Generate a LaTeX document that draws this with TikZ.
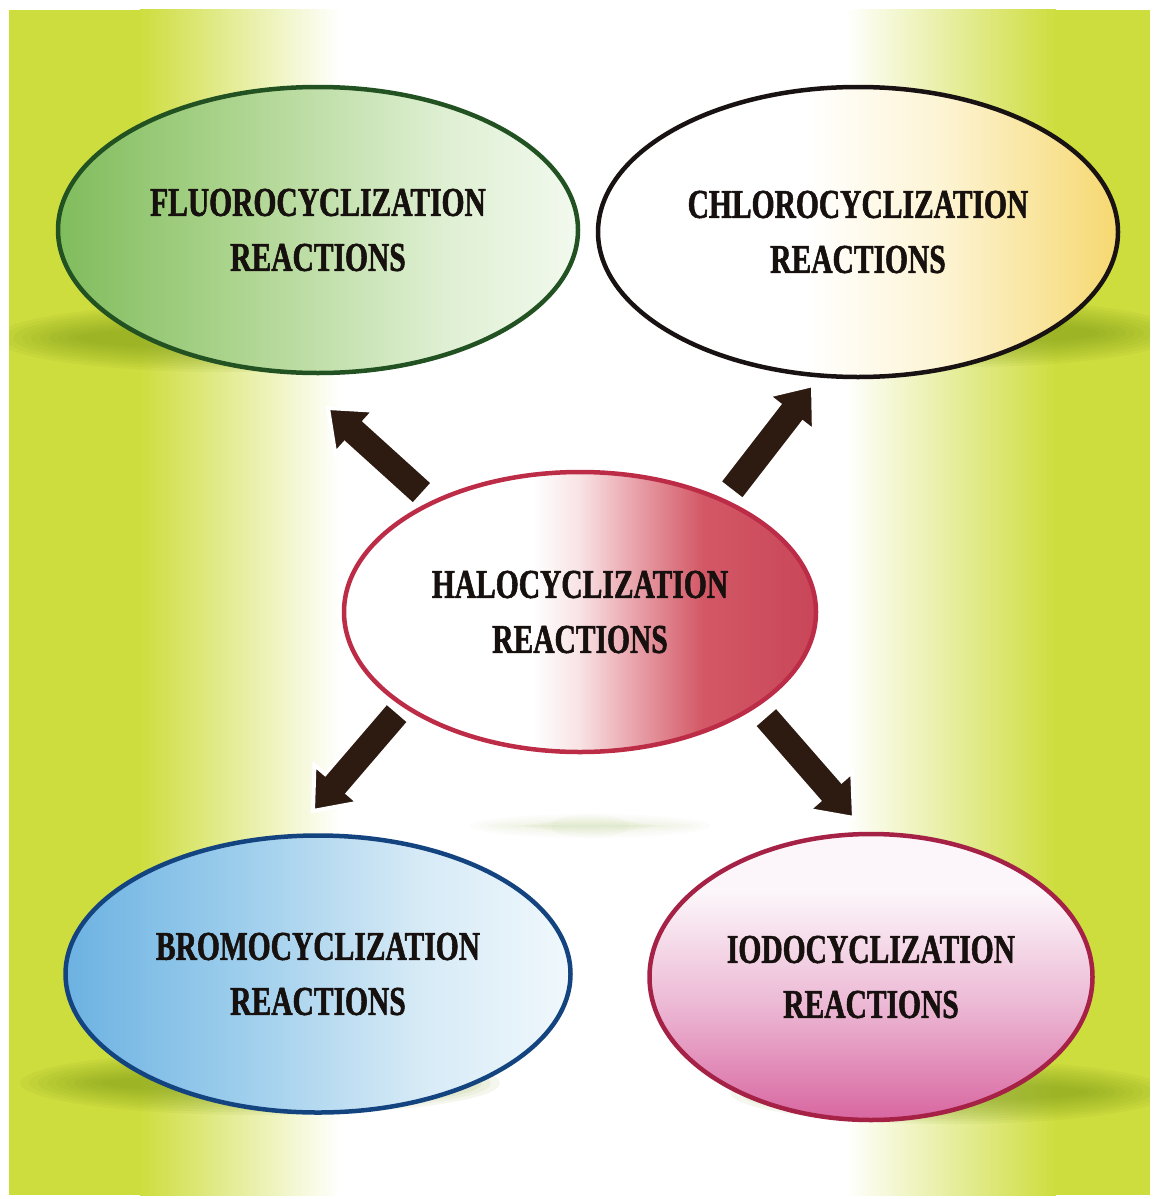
\documentclass[tikz,border=0pt]{standalone}
\usepackage{fontspec}
\setmainfont{Liberation Serif}[FakeStretch=0.72, BoldFeatures={FakeBold=1.3}]
\usetikzlibrary{shapes.geometric,calc}

\definecolor{limebg}{RGB}{206,221,62}
\definecolor{shadowg}{RGB}{120,150,20}
\definecolor{txtc}{RGB}{22,16,14}
\definecolor{arrbrown}{RGB}{45,26,16}
% fluoro
\definecolor{fluoA}{RGB}{128,188,92}
\definecolor{fluoB}{RGB}{172,212,142}
\definecolor{fluoC}{RGB}{222,239,210}
\definecolor{fluoD}{RGB}{242,249,238}
\definecolor{fluoLine}{RGB}{34,82,34}
% chloro
\definecolor{chlA}{RGB}{255,255,255}
\definecolor{chlB}{RGB}{253,244,212}
\definecolor{chlC}{RGB}{246,216,112}
\definecolor{chlLine}{RGB}{25,18,18}
% halo
\definecolor{halA}{RGB}{255,255,255}
\definecolor{halE}{RGB}{248,226,228}
\definecolor{halB}{RGB}{232,160,168}
\definecolor{halC}{RGB}{211,88,102}
\definecolor{halD}{RGB}{200,70,88}
\definecolor{halLine}{RGB}{188,44,70}
% bromo
\definecolor{broA}{RGB}{108,178,226}
\definecolor{broB}{RGB}{156,205,236}
\definecolor{broC}{RGB}{214,234,246}
\definecolor{broD}{RGB}{240,248,252}
\definecolor{broLine}{RGB}{20,68,128}
% iodo
\definecolor{ioA}{RGB}{216,102,160}
\definecolor{ioB}{RGB}{236,184,212}
\definecolor{ioC}{RGB}{252,246,250}
\definecolor{ioLine}{RGB}{165,34,70}

\pgfdeclarehorizontalshading{fluoshade}{100bp}{color(0bp)=(fluoA); color(25bp)=(fluoA); color(42bp)=(fluoB); color(62bp)=(fluoC); color(75bp)=(fluoD); color(100bp)=(fluoD)}
\pgfdeclarehorizontalshading{chlshade}{100bp}{color(0bp)=(chlA); color(25bp)=(chlA); color(45bp)=(chlA); color(58bp)=(chlB); color(75bp)=(chlC); color(100bp)=(chlC)}
\pgfdeclarehorizontalshading{halshade}{100bp}{color(0bp)=(halA); color(25bp)=(halA); color(45bp)=(halA); color(50bp)=(halE); color(56bp)=(halB); color(63bp)=(halC); color(75bp)=(halD); color(100bp)=(halD)}
\pgfdeclarehorizontalshading{broshade}{100bp}{color(0bp)=(broA); color(25bp)=(broA); color(42bp)=(broB); color(60bp)=(broC); color(75bp)=(broD); color(100bp)=(broD)}
\pgfdeclareverticalshading{ioshade}{100bp}{color(0bp)=(ioA); color(25bp)=(ioA); color(45bp)=(ioB); color(65bp)=(ioC); color(75bp)=(ioC); color(100bp)=(ioC)}

\newcommand\blkarrow[2]{%
  \coordinate (#1hb) at ($(#2)!36pt!(#1)$);
  \filldraw[blockarr] ($(#1)!15pt!90:(#2)$) -- ($(#1hb)!15pt!90:(#2)$) -- ($(#1hb)!29pt!90:(#2)$) -- (#2) -- ($(#1hb)!29pt!-90:(#2)$) -- ($(#1hb)!15pt!-90:(#2)$) -- ($(#1)!15pt!-90:(#2)$) -- cycle;}

\newcommand\softshadow[4]{%
  \foreach \k in {0,...,9}{\fill[shadowg, opacity=#4] (#1) ellipse ({#2-\k*9} and {#3-\k*2.6});}}

\tikzset{
  ell/.style={ellipse, shade, line width=4.5pt, inner sep=0pt, align=center, text=txtc,
    font=\bfseries\fontsize{41}{55}\selectfont},
  blockarr/.style={fill=arrbrown, draw=white, line width=4pt, line join=miter},
}

\begin{document}
\begin{tikzpicture}[x=1pt,y=-1pt]
\useasboundingbox (0,0) rectangle (1157,1199);
\fill[white] (0,0) rectangle (1157,1199);
% background gradient
\fill[limebg] (9,10) rectangle (141,1195);
\shade[left color=limebg, right color=white] (140,10) rectangle (340,1195);
\shade[left color=white, right color=limebg] (845,10) rectangle (1056,1195);
\fill[limebg] (1055,10) rectangle (1150,1195);

% soft shadows
\begin{scope}
\clip (9,10) rectangle (1150,1195);
\coordinate (sh1) at (225,338);
\coordinate (sh2) at (960,333);
\coordinate (sh3) at (260,1083);
\coordinate (sh4) at (950,1092);
\coordinate (sh5) at (590,826);
\softshadow{sh1}{230}{34}{0.07}
\softshadow{sh2}{220}{34}{0.07}
\softshadow{sh3}{240}{32}{0.07}
\softshadow{sh4}{220}{32}{0.07}
\softshadow{sh5}{120}{12}{0.02}
\end{scope}

% ellipses
\node[ell, draw=fluoLine, shading=fluoshade, minimum width=520pt, minimum height=286pt]
  (fluoro) at (318,230) {FLUOROCYCLIZATION\\REACTIONS};
\node[ell, draw=chlLine, shading=chlshade, minimum width=520pt, minimum height=290pt]
  (chloro) at (858,232) {CHLOROCYCLIZATION\\REACTIONS};
\node[ell, draw=halLine, shading=halshade, minimum width=472pt, minimum height=280pt]
  (halo) at (580,612) {HALOCYCLIZATION\\REACTIONS};
\node[ell, draw=broLine, shading=broshade, minimum width=505pt, minimum height=277pt]
  (bromo) at (318,974) {BROMOCYCLIZATION\\REACTIONS};
\node[ell, draw=ioLine, shading=ioshade, minimum width=443pt, minimum height=286pt]
  (iodo) at (871,977) {IODOCYCLIZATION\\REACTIONS};

% arrows
\coordinate (a1s) at (423,494); \coordinate (a1e) at (328,408);
\coordinate (a2s) at (731,491); \coordinate (a2e) at (813,385);
\coordinate (a3s) at (398,712); \coordinate (a3e) at (313,811);
\coordinate (a4s) at (765,716); \coordinate (a4e) at (854,818);
\blkarrow{a1s}{a1e}
\blkarrow{a2s}{a2e}
\blkarrow{a3s}{a3e}
\blkarrow{a4s}{a4e}
\end{tikzpicture}
\end{document}
